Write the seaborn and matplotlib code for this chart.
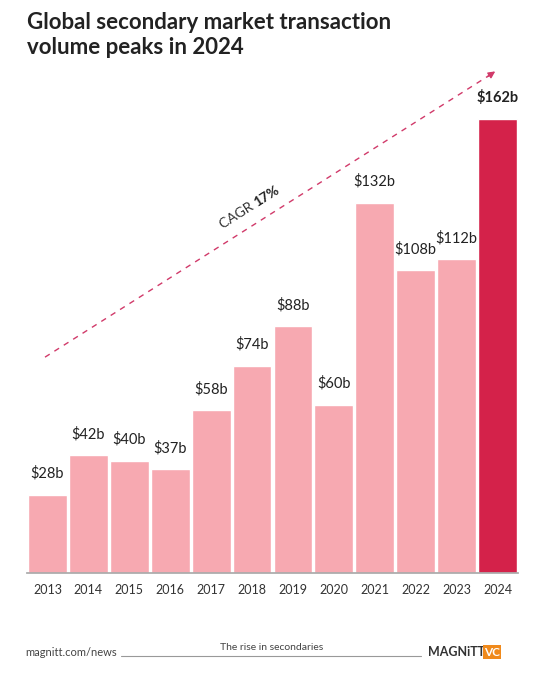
import matplotlib
matplotlib.use("Agg")
import matplotlib.pyplot as plt
import seaborn as sns
import pandas as pd

years = ["2013", "2014", "2015", "2016", "2017", "2018", "2019", "2020", "2021", "2022", "2023", "2024"]
volumes = [28, 42, 40, 37, 58, 74, 88, 60, 132, 108, 112, 162]

df = pd.DataFrame({"year": years, "volume": volumes})
sns.set_theme(style="white")
plt.rcParams["font.family"] = ["Lato", "DejaVu Sans"]

fig = plt.figure(figsize=(5.44, 6.8), dpi=100)
ax = fig.add_axes([27 / 544, 1 - 573 / 680, 491 / 544, 513 / 680])

colors = ["#f7a9b1"] * (len(years) - 1) + ["#d4224a"]
sns.barplot(data=df, x="year", y="volume", hue="year", palette=colors, legend=False,
            width=0.95, ax=ax, saturation=1)

for i, v in enumerate(volumes):
    last = i == len(volumes) - 1
    ax.text(i, v + 5, f"${v}b", ha="center", va="bottom", fontsize=10.5,
            color="#222222", fontweight="bold" if last else "normal")

ax.set_ylim(0, 183)
ax.set_xlim(-0.5, 11.5)
ax.set_xlabel("")
ax.set_ylabel("")
ax.set_yticks([])
ax.tick_params(axis="x", labelsize=9, colors="#333333", length=0, pad=8)
for s in ["top", "right", "left"]:
    ax.spines[s].set_visible(False)
ax.spines["bottom"].set_color("#aaaaaa")

# CAGR trend arrow
x0, y0, x1, y1 = -0.06, 77, 11.0, 179.5
ax.plot([x0, x1 - 0.15], [y0, y1 - 1.5], color="#d13a6a", lw=1, ls=(0, (4, 4)), clip_on=False)
ax.annotate("", xy=(x1, y1), xytext=(x1 - 0.3, y1 - 3.0), annotation_clip=False,
            arrowprops=dict(arrowstyle="-|>", color="#d13a6a", lw=1, mutation_scale=10))
ax.text(5.15, 130, "CAGR ", rotation=32.5, ha="right", va="bottom", fontsize=10,
        color="#333333", rotation_mode="anchor")
ax.text(5.15, 130, "17%", rotation=32.5, ha="left", va="bottom", fontsize=10,
        color="#222222", fontweight="bold", rotation_mode="anchor")

fig.text(27 / 544, 1 - 35 / 680, "Global secondary market transaction\nvolume peaks in 2024",
         fontsize=16, fontweight="bold", color="#222222", va="center", linespacing=1.25)

# footer
fig.text(25 / 544, 1 - 653 / 680, "magnitt.com/news", fontsize=8, color="#444444", va="center")
fig.add_artist(plt.Line2D([121 / 544, 421 / 544], [1 - 656 / 680] * 2, color="#999999", lw=0.8))
fig.text(272 / 544, 1 - 647 / 680, "The rise in secondaries", fontsize=7.5, color="#444444",
         ha="center", va="center")
fig.text(428 / 544, 1 - 652 / 680, "MAGNiTT", fontsize=9, fontweight="bold", color="#333333",
         va="center")
fig.text(484 / 544, 1 - 652 / 680, "VC", fontsize=8.5, fontweight="bold", color="white", va="center",
         bbox=dict(boxstyle="square,pad=0.1", fc="#f08a1c", ec="none"))

fig.savefig("out.png", dpi=100)
